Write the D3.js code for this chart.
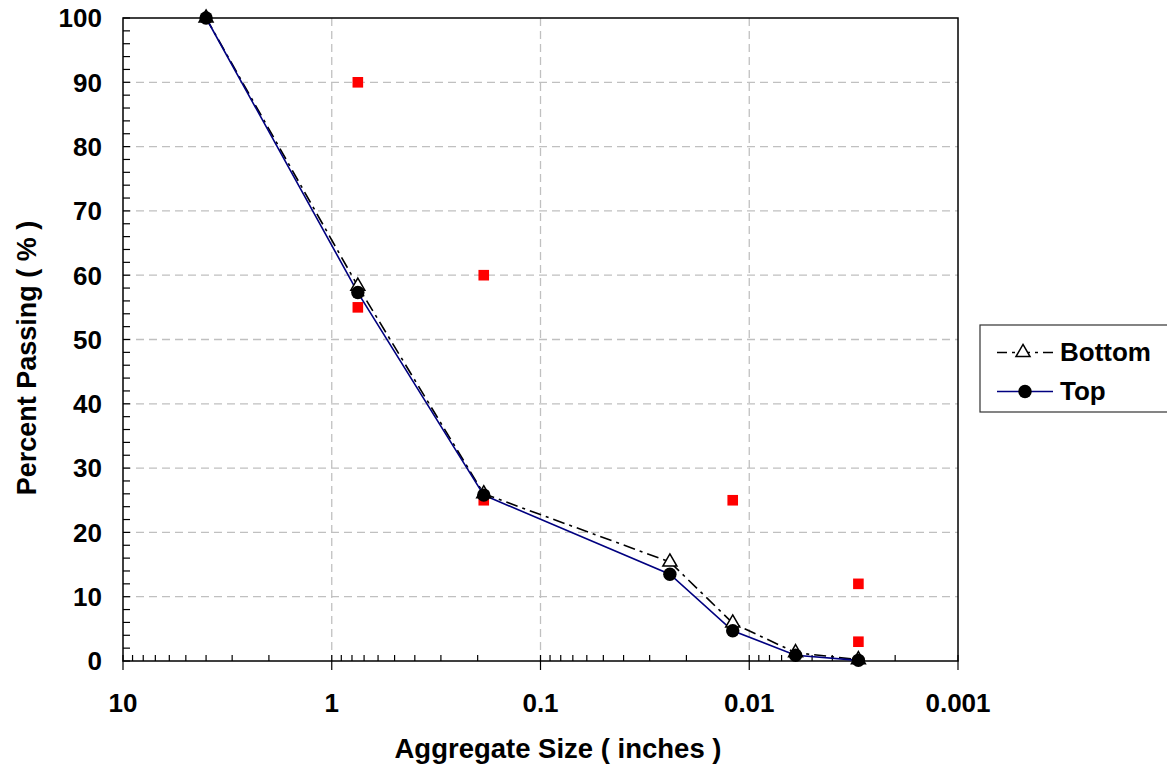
<!DOCTYPE html>
<html>
<head>
<meta charset="utf-8">
<script src="https://cdn.jsdelivr.net/npm/d3@7"></script>
<style>
  html, body { margin: 0; padding: 0; background: #fff; }
  svg { display: block; font-family: "Liberation Sans", Arial, sans-serif; }
</style>
</head>
<body>
<svg id="chart" width="1167" height="771"></svg>
<script>
// ---- data ----
const sieveSizes = [4.0, 0.75, 0.187, 0.024, 0.012, 0.006, 0.003];
const bottomPassing = [100, 58.3, 26.0, 15.4, 5.9, 1.3, 0.2];
const topPassing = [100, 57.3, 25.8, 13.5, 4.7, 0.9, 0.1];
const specSizes = [0.75, 0.75, 0.187, 0.187, 0.012, 0.012, 0.003, 0.003];
const specValues = [90, 55, 60, 25, 25, 5, 12, 3];
const xTickValues = [10, 1, 0.1, 0.01, 0.001];
const xTickLabels = ["10", "1", "0.1", "0.01", "0.001"];
const yTickValues = [0, 10, 20, 30, 40, 50, 60, 70, 80, 90, 100];
const seriesNames = ["Bottom", "Top"];

// ---- layout ----
const svg = d3.select("#chart");
const L = 123, R = 958, T = 18, B = 661;

const x = d3.scaleLog().domain([10, 0.001]).range([L, R]);
const y = d3.scaleLinear().domain([0, 100]).range([B, T]);

// grid
const grid = svg.append("g");
grid.selectAll("line.gy").data(yTickValues.filter(v => v > 0 && v < 100)).join("line")
  .attr("x1", L).attr("x2", R).attr("y1", d => y(d)).attr("y2", d => y(d))
  .attr("stroke", "#c0c0c0").attr("stroke-width", 1.3).attr("stroke-dasharray", "8,5");
grid.selectAll("line.gx").data(xTickValues.filter(v => v < 10 && v > 0.001)).join("line")
  .attr("x1", d => x(d)).attr("x2", d => x(d)).attr("y1", T).attr("y2", B)
  .attr("stroke", "#c0c0c0").attr("stroke-width", 1.3).attr("stroke-dasharray", "8,5");

// frame
svg.append("rect").attr("x", L).attr("y", T).attr("width", R - L).attr("height", B - T)
  .attr("fill", "none").attr("stroke", "#000").attr("stroke-width", 1.5);

// y axis ticks (inside) minor every 2
const yMinor = d3.range(0, 101, 2);
svg.append("g").selectAll("line").data(yMinor).join("line")
  .attr("x1", L).attr("x2", L + 7).attr("y1", d => y(d)).attr("y2", d => y(d))
  .attr("stroke", "#000").attr("stroke-width", 1.2);
svg.append("g").selectAll("text").data(yTickValues).join("text")
  .attr("x", 102).attr("y", d => y(d) + 9.3)
  .attr("text-anchor", "end").attr("font-size", 26).attr("font-weight", "bold")
  .text(d => d);

// x axis minor ticks (inside, upward)
const xMinor = [];
[1, 0.1, 0.01, 0.001].forEach(base => {
  for (let k = 2; k <= 9; k++) xMinor.push(base * k);
});
svg.append("g").selectAll("line").data(xMinor.filter(v => v < 10 && v > 0.001)).join("line")
  .attr("x1", d => x(d)).attr("x2", d => x(d)).attr("y1", B).attr("y2", B - 6)
  .attr("stroke", "#000").attr("stroke-width", 1.2);
svg.append("g").selectAll("line").data(xTickValues).join("line")
  .attr("x1", d => x(d)).attr("x2", d => x(d)).attr("y1", B - 6).attr("y2", B + 9)
  .attr("stroke", "#000").attr("stroke-width", 1.2);
svg.append("g").selectAll("text").data(xTickValues).join("text")
  .attr("x", d => x(d)).attr("y", 712)
  .attr("text-anchor", "middle").attr("font-size", 26).attr("font-weight", "bold")
  .text((d, i) => xTickLabels[i]);

// axis titles
svg.append("text").attr("x", 558).attr("y", 758).attr("text-anchor", "middle")
  .attr("font-size", 27.5).attr("font-weight", "bold").text("Aggregate Size ( inches )");
svg.append("text").attr("transform", "translate(36,358) rotate(-90)").attr("text-anchor", "middle")
  .attr("font-size", 27).attr("font-weight", "bold").text("Percent Passing ( % )");

// spec points (red squares)
svg.append("g").selectAll("rect").data(specSizes.map((s, i) => [s, specValues[i]])).join("rect")
  .attr("x", d => x(d[0]) - 5.3).attr("y", d => y(d[1]) - 5.3)
  .attr("width", 10.6).attr("height", 10.6).attr("fill", "#ff0000");

// lines
const line = d3.line().x(d => x(d[0])).y(d => y(d[1]));
const bottomData = sieveSizes.map((s, i) => [s, bottomPassing[i]]);
const topData = sieveSizes.map((s, i) => [s, topPassing[i]]);

svg.append("path").datum(bottomData).attr("d", line).attr("fill", "none")
  .attr("stroke", "#000").attr("stroke-width", 1.6).attr("stroke-dasharray", "12,5,3,5");
svg.append("path").datum(topData).attr("d", line).attr("fill", "none")
  .attr("stroke", "#000080").attr("stroke-width", 1.6);

const tri = d3.symbol().type(d3.symbolTriangle).size(85);
svg.append("g").selectAll("path").data(bottomData).join("path")
  .attr("d", tri).attr("transform", d => `translate(${x(d[0])},${y(d[1])})`)
  .attr("fill", "#fff").attr("stroke", "#000").attr("stroke-width", 1.5);
svg.append("g").selectAll("circle").data(topData).join("circle")
  .attr("cx", d => x(d[0])).attr("cy", d => y(d[1])).attr("r", 6.7).attr("fill", "#000");

// legend
const lg = svg.append("g");
lg.append("rect").attr("x", 980).attr("y", 325).attr("width", 195).attr("height", 87)
  .attr("fill", "#fff").attr("stroke", "#333").attr("stroke-width", 1.2);
lg.append("line").attr("x1", 997).attr("x2", 1053).attr("y1", 352.5).attr("y2", 352.5)
  .attr("stroke", "#000").attr("stroke-width", 1.6).attr("stroke-dasharray", "10,5,3,5");
lg.append("path").attr("d", tri).attr("transform", "translate(1023,352.5)")
  .attr("fill", "#fff").attr("stroke", "#000").attr("stroke-width", 1.5);
lg.append("line").attr("x1", 997).attr("x2", 1053).attr("y1", 391.5).attr("y2", 391.5)
  .attr("stroke", "#000080").attr("stroke-width", 1.6);
lg.append("circle").attr("cx", 1025).attr("cy", 391.5).attr("r", 6.7).attr("fill", "#000");
lg.append("text").attr("x", 1060).attr("y", 361).attr("font-size", 26).attr("font-weight", "bold").text(seriesNames[0]);
lg.append("text").attr("x", 1060).attr("y", 400).attr("font-size", 26).attr("font-weight", "bold").text(seriesNames[1]);
</script>
</body>
</html>
